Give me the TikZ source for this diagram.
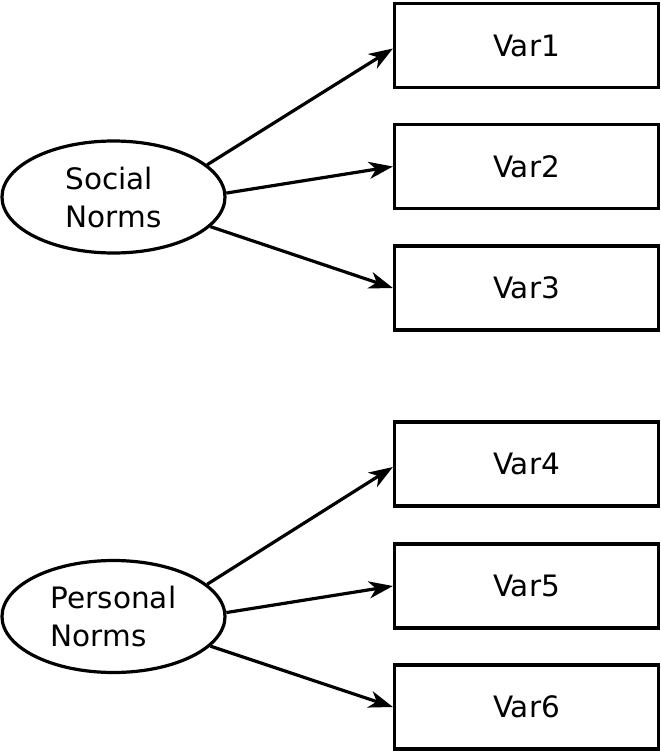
\documentclass[tikz,border=0pt]{standalone}
\usepackage{fontspec}
\setmainfont{DejaVu Sans}
\usetikzlibrary{shapes.geometric,arrows.meta}
\begin{document}
\begin{tikzpicture}[x=1pt,y=-1pt,
  varbox/.style={draw, line width=3.2pt, rectangle, minimum width=264pt, minimum height=84pt, inner sep=0pt, font=\fontsize{29.5}{38}\selectfont},
  latent/.style={draw, line width=3.2pt, ellipse, minimum width=223pt, minimum height=112pt, inner sep=0pt, align=left, font=\fontsize{29.5}{38}\selectfont},
  link/.style={line width=3.2pt, -{Stealth[length=24pt, width=17pt, inset=7pt]}}]
\useasboundingbox (0,0) rectangle (661,753);
\node[latent] (soc) at (113.5,197) {Social\\Norms};
\node[latent] (per) at (113.5,616.5) {Personal\\Norms};
\node[varbox] (v1) at (526.5,45.5) {Var1};
\node[varbox] (v2) at (526.5,166.5) {Var2};
\node[varbox] (v3) at (526.5,288) {Var3};
\node[varbox] (v4) at (526.5,464) {Var4};
\node[varbox] (v5) at (526.5,586) {Var5};
\node[varbox] (v6) at (526.5,707) {Var6};
\coordinate (e1) at ([yshift=-3pt]v1.west);
\coordinate (e4) at ([yshift=-3pt]v4.west);
\draw[link] (soc.19) -- (e1);
\draw[link] (soc.2) -- (v2.west);
\draw[link] (soc.-17) -- (v3.west);
\draw[link] (per.19) -- (e4);
\draw[link] (per.2) -- (v5.west);
\draw[link] (per.-17) -- (v6.west);
\end{tikzpicture}
\end{document}
